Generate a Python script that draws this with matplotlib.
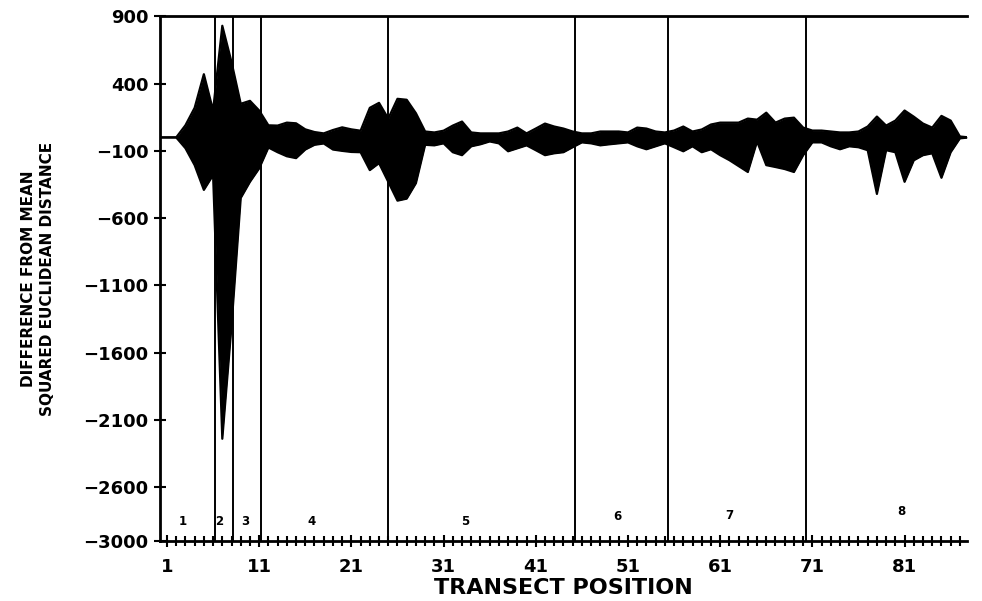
import matplotlib
matplotlib.use("Agg")
import matplotlib.pyplot as plt
import numpy as np

# transect positions 0..88 (flat zero at both ends)
pos = list(range(0, 89))

upper = [0, 0, 0, 90, 220, 470, 200, 830, 560, 250,
         272, 200, 90, 88, 110, 105, 60, 40, 30, 55,
         75, 60, 50, 220, 257, 140, 287, 280, 180, 44,
         37, 50, 88, 118, 37, 30, 30, 30, 44, 73,
         30, 66, 103, 81, 66, 44, 30, 30, 44, 44,
         44, 37, 73, 66, 44, 37, 51, 81, 44, 59,
         96, 110, 110, 110, 140, 132, 184, 110, 140, 147,
         73, 51, 51, 44, 37, 37, 44, 81, 155, 88,
         125, 200, 154, 103, 73, 160, 125, 7, 0]

lower = [0, 0, 0, -80, -206, -390, -280, -2240, -1400, -450,
         -330, -230, -75, -110, -140, -154, -90, -55, -45, -90,
         -100, -108, -110, -243, -191, -330, -470, -455, -340, -55,
         -59, -44, -110, -132, -66, -51, -30, -44, -103, -81,
         -59, -95, -132, -118, -110, -73, -37, -44, -59, -51,
         -44, -37, -66, -88, -66, -44, -73, -103, -66, -110,
         -88, -132, -169, -213, -257, -30, -206, -220, -235, -257,
         -132, -37, -37, -66, -88, -66, -73, -95, -420, -95,
         -110, -330, -170, -132, -118, -300, -110, -7, 0]

# zone boundaries and labels
bounds = [6.2, 8.2, 11.2, 25.0, 45.3, 55.3, 70.3]
zone_names = ["1", "2", "3", "4", "5", "6", "7", "8"]
zone_x = [2.75, 6.65, 9.45, 16.7, 33.3, 49.9, 61.95, 80.6]
zone_y = [-2857, -2857, -2857, -2857, -2857, -2815, -2808, -2784]

xticks = [1, 11, 21, 31, 41, 51, 61, 71, 81]
yticks = [900, 400, -100, -600, -1100, -1600, -2100, -2600, -3000]

fig = plt.figure(figsize=(9.82, 6.01), dpi=100)
ax = fig.add_axes([0.163, 0.0998, 0.822, 0.873])

for b in bounds:
    ax.axvline(b, color="black", lw=1.4, zorder=1)

ax.fill_between(pos, lower, upper, color="black", lw=0, zorder=2)
ax.plot(pos, upper, color="black", lw=1.6, zorder=3)
ax.plot(pos, lower, color="black", lw=1.6, zorder=3)

for name, zx, zy in zip(zone_names, zone_x, zone_y):
    ax.text(zx, zy, name, fontsize=8.5, fontweight="bold", ha="center", va="center")

ax.set_xlim(0.25, 87.8)
ax.set_ylim(-3000, 900)
ax.set_xticks(xticks)
ax.set_xticks(range(1, 88), minor=True)
ax.set_yticks(yticks)

for lab in ax.get_xticklabels() + ax.get_yticklabels():
    lab.set_fontweight("bold")
    lab.set_fontsize(13)

ax.tick_params(axis="x", which="major", direction="inout", length=9, width=1.5, pad=8)
ax.tick_params(axis="x", which="minor", direction="inout", length=7, width=1.5)
ax.tick_params(axis="y", which="major", direction="inout", length=9, width=1.5, pad=4)

ax.spines["right"].set_visible(False)
for s in ["left", "bottom", "top"]:
    ax.spines[s].set_linewidth(2)

ax.set_xlabel("TRANSECT POSITION", fontsize=16, fontweight="bold", labelpad=1)
ax.set_ylabel("DIFFERENCE FROM MEAN\nSQUARED EUCLIDEAN DISTANCE",
              fontsize=11, fontweight="bold", linespacing=1.35, labelpad=20)

fig.savefig("out.png", dpi=100)
